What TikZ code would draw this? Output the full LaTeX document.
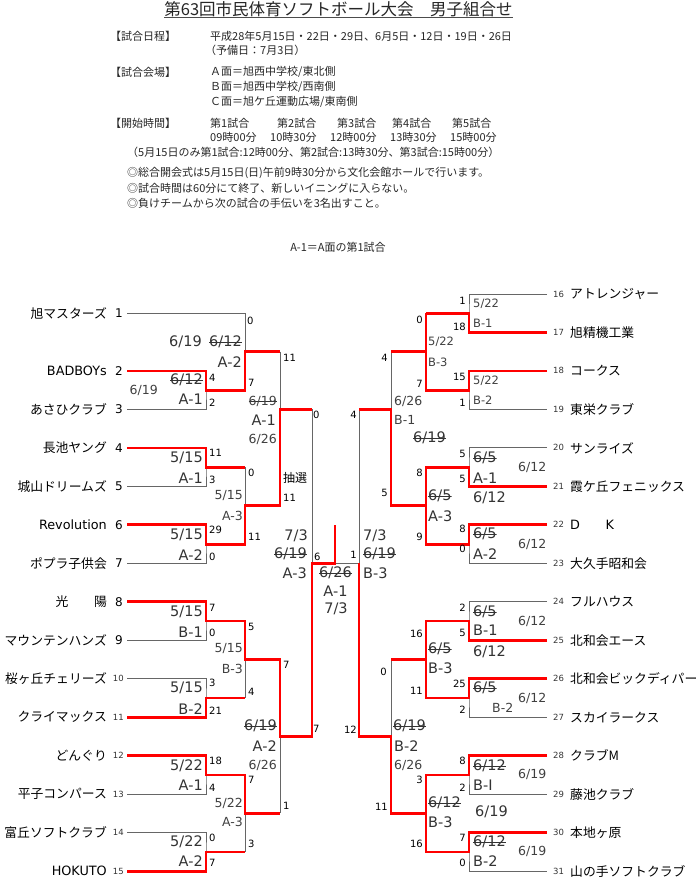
\documentclass[tikz,border=0pt]{standalone}
\usepackage{fontspec}
\setmainfont{DejaVu Sans}
\newfontfamily\jp{Noto Sans CJK JP}
\newfontfamily\lat{DejaVu Sans}
\tikzset{>=latex}
\tikzset{
  bline/.style={draw=black!60, line width=0.9pt},
  wline/.style={draw=red, line width=2.8pt},
  lbl/.style={font=\fontsize{14.5}{15}\selectfont, text=black!80, inner sep=0pt},
  mlbl/.style={font=\fontsize{12.5}{13}\selectfont, text=black!75, inner sep=0pt},
  slbl/.style={font=\fontsize{11.5}{12}\selectfont, text=black!75, inner sep=0pt},
  sc/.style={font=\fontsize{10}{10}\selectfont, inner sep=0pt},
  struck/.style={path picture={\draw[black!80,line width=0.7pt] (path picture bounding box.west) -- (path picture bounding box.east);}},
  tname/.style={font=\jp\fontsize{12.8}{13}\selectfont, inner sep=0pt},
  tnum/.style={font=\fontsize{12}{12}\selectfont, inner sep=0pt},
  snum/.style={font=\fontsize{8.5}{9}\selectfont, text=black!80, inner sep=0pt},
  hd/.style={font=\jp\fontsize{11}{11}\selectfont, text=black!85, inner sep=0pt, anchor=west}
}
\begin{document}
\begin{tikzpicture}[x=1pt,y=-1pt]
\useasboundingbox (0,0) rectangle (700,885);

% header
\node[font=\jp\fontsize{16.5}{17}\selectfont, inner sep=0pt, text=black!85] (title) at (338.5,9.5) {第63回市民体育ソフトボール大会　男子組合せ};
\draw[black!70, line width=1.2pt] ([yshift=-0.5pt]title.south west) -- ([yshift=-0.5pt]title.south east);
\node[hd] (h1) at (110,36) {【試合日程】};
\node[hd] (h2) at (210,36) {平成28年5月15日・22日・29日、6月5日・12日・19日・26日};
\node[hd] (h3) at (205,50) {（予備日：7月3日）};
\node[hd] (h4) at (110,72) {【試合会場】};
\node[hd] (h5) at (210,72) {Ａ面＝旭西中学校/東北側};
\node[hd] (h6) at (210,87) {Ｂ面＝旭西中学校/西南側};
\node[hd] (h7) at (210,102) {Ｃ面＝旭ケ丘運動広場/東南側};
\node[hd] (h8) at (110,123) {【開始時間】};
\foreach \x/\t [count=\i] in {210/第1試合, 277/第2試合, 337/第3試合, 392/第4試合, 452/第5試合}
  \node[hd] (g\i) at (\x,123) {\t};
\foreach \x/\t [count=\i] in {210/09時00分, 270/10時30分, 330/12時00分, 390/13時30分, 450/15時00分}
  \node[hd] (tm\i) at (\x,137) {\t};
\node[hd] (h9) at (127,152) {（5月15日のみ第1試合:12時00分、第2試合:13時30分、第3試合:15時00分）};
\node[hd] (n1) at (127,173) {◎総合開会式は5月15日(日)午前9時30分から文化会館ホールで行います。};
\node[hd] (n2) at (127,188) {◎試合時間は60分にて終了、新しいイニングに入らない。};
\node[hd] (n3) at (127,203) {◎負けチームから次の試合の手伝いを3名出すこと。};
\node[hd, anchor=center] (key) at (338,247) {A-1＝A面の第1試合};

% teams
\begin{scope}[every node/.style={tname, anchor=east}]
\foreach \n/\y/\t in {1/313.2/旭マスターズ, 2/370.9/{\lat BADBOYs}, 3/409.4/あさひクラブ, 4/447.9/長池ヤング,
  5/486.4/城山ドリームズ, 6/524.8/{\lat Revolution}, 7/563.3/ポプラ子供会, 8/601.8/光　　陽,
  9/640.2/マウンテンハンズ, 10/678.7/桜ヶ丘チェリーズ, 11/717.2/クライマックス, 12/755.6/どんぐり,
  13/794.1/平子コンパース, 14/832.6/富丘ソフトクラブ, 15/871.1/{\lat HOKUTO}}
  \node (nm\n) at (107,\y) {\t};
\end{scope}
\foreach \n/\y in {1/313.2, 2/370.9, 3/409.4, 4/447.9, 5/486.4, 6/524.8, 7/563.3, 8/601.8, 9/640.2}
  \node[tnum, anchor=east] (tn\n) at (123,\y) {\n};
\foreach \n/\y in {10/678.7, 11/717.2, 12/755.6, 13/794.1, 14/832.6, 15/871.1}
  \node[snum, anchor=east] (tn\n) at (124,\y) {\n};
\begin{scope}[every node/.style={tname, anchor=west}]
\foreach \n/\y/\t in {16/294.0/アトレンジャー, 17/332.5/旭精機工業, 18/370.9/コークス, 19/409.4/東栄クラブ,
  20/447.9/サンライズ, 21/486.4/霞ケ丘フェニックス, 22/524.8/{\lat D}　　{\lat K}, 23/563.3/大久手昭和会,
  24/601.8/フルハウス, 25/640.2/北和会エース, 26/678.7/北和会ビックディパー, 27/717.2/スカイラークス,
  28/755.6/クラブM, 29/794.1/藤池クラブ, 30/832.6/本地ヶ原, 31/871.1/山の手ソフトクラブ}
  \node (nm\n) at (570,\y) {\t};
\end{scope}
\foreach \n/\y in {16/294.0, 17/332.5, 18/370.9, 19/409.4, 20/447.9, 21/486.4, 22/524.8, 23/563.3,
  24/601.8, 25/640.2, 26/678.7, 27/717.2, 28/755.6, 29/794.1, 30/832.6, 31/871.1}
  \node[snum, anchor=west] (tn\n) at (553,\y) {\n};

% bracket, left
\draw[bline] (127,313.2) -- (245,313.2);
\foreach \a/\b/\m in {370.9/409.4/390.2, 447.9/486.4/467.2, 524.8/563.3/544.1, 601.8/640.2/621.0,
  678.7/717.2/698.0, 755.6/794.1/774.9, 832.6/871.1/851.9}
  {\draw[bline] (127,\a) -| (206,\m) |- (127,\b); \draw[bline] (206,\m) -- (245,\m);}
\foreach \a/\b/\m in {313.2/390.2/351.7, 467.2/544.1/505.6, 621.0/698.0/659.5, 774.9/851.9/813.4}
  {\draw[bline] (245,\a) -- (245,\b); \draw[bline] (245,\m) -- (280,\m);}
\draw[bline] (280,351.7) -- (280,505.6);
\draw[bline] (280,409.4) -- (312,409.4);
\draw[bline] (280,659.5) -- (280,813.4);
\draw[bline] (280,736.4) -- (312,736.4);
\draw[bline] (312,409.4) -- (312,736.4);
\draw[bline] (312,563.3) -- (359,563.3);

% bracket, right
\foreach \a/\b/\m in {294.0/332.5/313.2, 370.9/409.4/390.2, 447.9/486.4/467.2, 524.8/563.3/544.1,
  601.8/640.2/621.0, 678.7/717.2/698.0, 755.6/794.1/774.9, 832.6/871.1/851.9}
  {\draw[bline] (547,\a) -| (469,\m) |- (547,\b); \draw[bline] (469,\m) -- (426,\m);}
\foreach \a/\b/\m in {313.2/390.2/351.7, 467.2/544.1/505.6, 621.0/698.0/659.5, 774.9/851.9/813.4}
  {\draw[bline] (426,\a) -- (426,\b); \draw[bline] (426,\m) -- (391,\m);}
\draw[bline] (391,351.7) -- (391,505.6);
\draw[bline] (391,409.4) -- (359,409.4);
\draw[bline] (391,659.5) -- (391,813.4);
\draw[bline] (391,736.4) -- (359,736.4);
\draw[bline] (359,409.4) -- (359,736.4);

% winners
\draw[wline] (127,370.9) -| (206,390.2) -| (245,351.7) -- (280,351.7);
\draw[wline] (127,447.9) -| (206,467.2) -- (245,467.2);
\draw[wline] (127,524.8) -| (206,544.1) -| (245,505.6) -| (280,409.4) -- (312,409.4);
\draw[wline] (127,601.8) -| (206,621.0) -| (245,659.5) -| (280,736.4) -| (312,563.3) -| (335,524.8);
\draw[wline] (127,717.2) -| (206,698.0) -- (245,698.0);
\draw[wline] (127,755.6) -| (206,774.9) -| (245,813.4) -- (280,813.4);
\draw[wline] (127,871.1) -| (206,851.9) -- (245,851.9);
\draw[wline] (547,332.5) -| (469,313.2) -- (426,313.2);
\draw[wline] (547,370.9) -| (469,390.2) -| (426,351.7) -- (391,351.7);
\draw[wline] (426,313.2) -- (426,351.7);
\draw[wline] (547,486.4) -| (469,467.2) -- (426,467.2) -- (426,505.6);
\draw[wline] (547,524.8) -| (469,544.1) -| (426,505.6) -| (391,409.4) -- (359,409.4);
\draw[wline] (547,640.2) -| (469,621.0) -| (426,659.5) -- (391,659.5);
\draw[wline] (547,678.7) -| (469,698.0) -- (426,698.0) -- (426,659.5);
\draw[wline] (547,755.6) -| (469,774.9) -- (426,774.9) -- (426,813.4);
\draw[wline] (547,832.6) -| (469,851.9) -| (426,813.4) -| (391,736.4) -| (359,563.3);

% left, first round
\begin{scope}[every node/.style={anchor=east}]
\node[lbl,struck] (la1d) at (203,380) {6/12};
\node[mlbl] (la1e) at (158,390) {6/19};
\node[lbl] (la1g) at (203,399) {A-1};
\node[lbl] (lb1d) at (203,458) {5/15};
\node[lbl] (lb1g) at (203,478) {A-1};
\node[lbl] (lc1d) at (203,535) {5/15};
\node[lbl] (lc1g) at (203,555) {A-2};
\node[lbl] (ld1d) at (203,612) {5/15};
\node[lbl] (ld1g) at (203,632) {B-1};
\node[lbl] (le1d) at (203,688) {5/15};
\node[lbl] (le1g) at (203,709) {B-2};
\node[lbl] (lf1d) at (203,766) {5/22};
\node[lbl] (lf1g) at (203,785) {A-1};
\node[lbl] (lg1d) at (203,842) {5/22};
\node[lbl] (lg1g) at (203,861) {A-2};
% left, second round
\node[lbl] (la2e) at (202,342) {6/19};
\node[lbl,struck] (la2d) at (242,342) {6/12};
\node[lbl] (la2g) at (242,362) {A-2};
\node[mlbl] (lb2d) at (243,496) {5/15};
\node[mlbl] (lb2g) at (243,516) {A-3};
\node[mlbl] (lc2d) at (243,649) {5/15};
\node[mlbl] (lc2g) at (243,669) {B-3};
\node[mlbl] (ld2d) at (243,803) {5/22};
\node[mlbl] (ld2g) at (243,822) {A-3};
% left, third round
\node[mlbl,struck] (la3d) at (277,401) {6/19};
\node[lbl] (la3g) at (276,420) {A-1};
\node[mlbl] (la3e) at (277,439) {6/26};
\node[lbl,struck] (lb3d) at (277,726) {6/19};
\node[lbl] (lb3g) at (277,746) {A-2};
\node[mlbl] (lb3e) at (277,765) {6/26};
% left, semifinal
\node[lbl] (l4e) at (308,536) {7/3};
\node[lbl,struck] (l4d) at (307,554) {6/19};
\node[lbl] (l4g) at (307,573) {A-3};
\end{scope}
\node[font=\jp\fontsize{12}{12}\selectfont, inner sep=0pt, anchor=west] (lot) at (283,478) {抽選};

% left, scores
\begin{scope}[every node/.style={sc, anchor=west}]
\node (s2) at (209,378) {4};   \node (s3) at (209,403) {2};
\node (s4) at (209,453) {11};  \node (s5) at (209,480) {3};
\node (s6) at (209,530) {29};  \node (s7) at (209,557) {0};
\node (s8) at (209,608) {7};   \node (s9) at (209,633) {0};
\node (s10) at (209,683) {3};  \node (s11) at (209,711) {21};
\node (s12) at (209,761) {18}; \node (s13) at (209,788) {4};
\node (s14) at (209,838) {0};  \node (s15) at (209,863) {7};
\node (r2a) at (247,321) {0};  \node (r2b) at (248,383) {7};
\node (r2c) at (248,473) {0};  \node (r2d) at (248,537) {11};
\node (r2e) at (248,627) {5};  \node (r2f) at (248,692) {4};
\node (r2g) at (248,780) {7};  \node (r2h) at (248,844) {3};
\node (r3a) at (283,358) {11}; \node (r3b) at (283,498) {11};
\node (r3c) at (283,665) {7};  \node (r3d) at (283,806) {1};
\node (r4a) at (313,415) {0};  \node (r4b) at (313,729) {7};
\node (fl) at (314,557) {6};
\end{scope}

% final
\node[lbl,struck] (fd) at (335.5,573) {6/26};
\node[lbl] (fg) at (335.5,591) {A-1};
\node[lbl] (fe) at (336,609) {7/3};

% right, labels
\begin{scope}[every node/.style={anchor=west}]
\node[slbl] (ra1d) at (473,304) {5/22};
\node[slbl] (ra1g) at (473,323) {B-1};
\node[slbl] (rb1d) at (473,381) {5/22};
\node[slbl] (rb1g) at (473,400) {B-2};
\node[lbl,struck] (rc1d) at (473,458) {6/5};
\node[mlbl] (rc1e) at (518,467) {6/12};
\node[lbl] (rc1g) at (473,478) {A-1};
\node[lbl,struck] (rd1d) at (473,534) {6/5};
\node[mlbl] (rd1e) at (518,544) {6/12};
\node[lbl] (rd1g) at (473,554) {A-2};
\node[lbl,struck] (re1d) at (473,612) {6/5};
\node[mlbl] (re1e) at (518,621) {6/12};
\node[lbl] (re1g) at (473,630) {B-1};
\node[lbl,struck] (rf1d) at (473,688) {6/5};
\node[mlbl] (rf1e) at (518,698) {6/12};
\node[mlbl] (rf1g) at (492,708) {B-2};
\node[lbl,struck] (rg1d) at (473,766) {6/12};
\node[mlbl] (rg1e) at (518,774) {6/19};
\node[lbl] (rg1g) at (473,785) {B-Ⅰ};
\node[lbl,struck] (rh1d) at (473,842) {6/12};
\node[mlbl] (rh1e) at (518,851) {6/19};
\node[lbl] (rh1g) at (473,861) {B-2};
\node[slbl] (ra2d) at (428,342) {5/22};
\node[slbl] (ra2g) at (428,362) {B-3};
\node[lbl,struck] (rb2d) at (428,496) {6/5};
\node[lbl] (rb2e) at (473,498) {6/12};
\node[lbl] (rb2g) at (428,516) {A-3};
\node[lbl,struck] (rc2d) at (428,649) {6/5};
\node[lbl] (rc2e) at (473,652) {6/12};
\node[lbl] (rc2g) at (428,668) {B-3};
\node[lbl,struck] (rd2d) at (428,803) {6/12};
\node[lbl] (rd2e) at (475,812) {6/19};
\node[lbl] (rd2g) at (428,822) {B-3};
\node[mlbl] (ra3e) at (394,401) {6/26};
\node[mlbl] (ra3g) at (394,420) {B-1};
\node[lbl,struck] (ra3d) at (413,438) {6/19};
\node[lbl,struck] (rb3d) at (393,726) {6/19};
\node[lbl] (rb3g) at (394,746) {B-2};
\node[mlbl] (rb3e) at (394,765) {6/26};
\node[lbl] (r4e) at (363,536) {7/3};
\node[lbl,struck] (r4d) at (363,554) {6/19};
\node[lbl] (r4g) at (363,573) {B-3};
\end{scope}

% right, scores
\begin{scope}[every node/.style={sc, anchor=east}]
\node (s16) at (466,301) {1};  \node (s17) at (466,327) {18};
\node (s18) at (466,377) {15}; \node (s19) at (466,403) {1};
\node (s20) at (466,454) {5};  \node (s21) at (466,479) {5};
\node (s22) at (466,529) {8};  \node (s23) at (466,549) {0};
\node (s24) at (466,608) {2};  \node (s25) at (466,633) {5};
\node (s26) at (466,684) {25}; \node (s27) at (466,710) {2};
\node (s28) at (466,761) {8};  \node (s29) at (466,788) {2};
\node (s30) at (466,838) {7};  \node (s31) at (466,863) {0};
\node (q2a) at (423,320) {0};  \node (q2b) at (423,384) {7};
\node (q2c) at (423,473) {8};  \node (q2d) at (423,537) {9};
\node (q2e) at (423,634) {16}; \node (q2f) at (423,691) {11};
\node (q2g) at (423,780) {3};  \node (q2h) at (423,844) {16};
\node (q3a) at (388,358) {4};  \node (q3b) at (388,493) {5};
\node (q3c) at (387,672) {0};  \node (q3d) at (388,807) {11};
\node (q4a) at (357,415) {4};  \node (q4b) at (357,730) {12};
\node (fr) at (357,555) {1};
\end{scope}
\end{tikzpicture}
\end{document}
